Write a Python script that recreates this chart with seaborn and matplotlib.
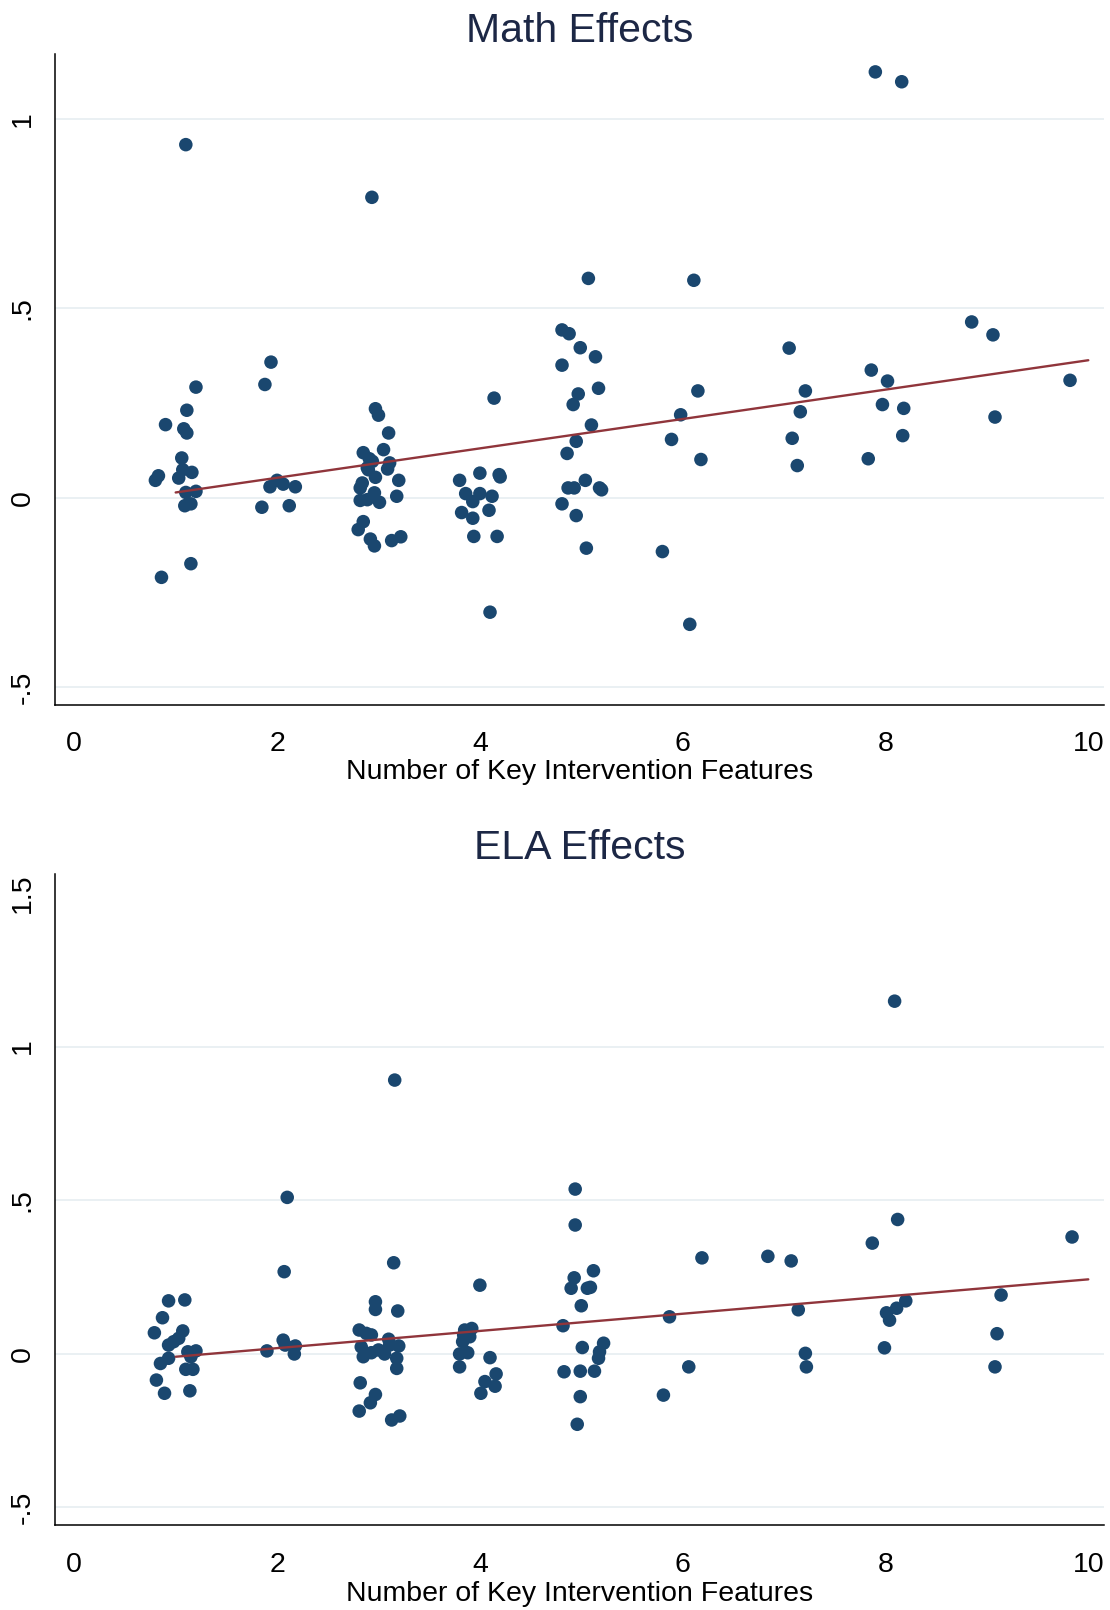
import matplotlib
matplotlib.use("Agg")
import matplotlib.pyplot as plt
import seaborn as sns
import pandas as pd

# ---------------- data ----------------
math_x = [
    1.10, 1.20, 1.11, 0.90, 1.08, 1.11, 1.06, 1.07, 1.16, 1.03, 0.83, 0.80, 1.10, 1.20, 1.09, 1.15, 1.15, 0.86,
    1.94, 1.88, 1.93, 2.00, 2.06, 2.18, 1.85, 2.12,
    2.935, 2.97, 3.00, 3.10, 2.85, 3.05, 2.91, 2.94, 2.89, 2.90, 3.11, 3.09, 2.97, 3.20, 2.84, 2.82,
    2.96, 3.18, 2.82, 2.89, 3.01, 2.85, 2.80, 2.92, 2.96, 3.13, 3.22,
    4.14, 4.00, 4.19, 4.20, 3.80, 3.86, 4.00, 4.12, 3.93, 3.82, 4.09, 3.93, 3.94, 4.17, 4.10,
    5.07, 4.81, 4.88, 4.99, 5.14, 4.81, 5.17, 4.97, 4.92, 5.10, 4.95, 4.86, 5.04, 4.87, 4.93, 5.18,
    5.20, 4.81, 4.95, 5.05,
    6.11, 6.15, 5.98, 5.89, 6.18, 5.80, 6.07,
    7.05, 7.21, 7.16, 7.08, 7.13,
    7.90, 8.16, 7.86, 8.02, 7.97, 8.18, 8.17, 7.83,
    8.85, 9.06, 9.08,
    9.82,
]
math_y = [
    0.932, 0.292, 0.231, 0.193, 0.182, 0.171, 0.105, 0.074, 0.067, 0.052, 0.058, 0.046, 0.014, 0.017, -0.021, -0.016, -0.174, -0.210,
    0.358, 0.299, 0.029, 0.046, 0.036, 0.029, -0.025, -0.021,
    0.793, 0.235, 0.218, 0.171, 0.119, 0.127, 0.103, 0.096, 0.079, 0.074, 0.092, 0.076, 0.054, 0.046, 0.039, 0.026,
    0.013, 0.004, -0.007, -0.005, -0.012, -0.063, -0.084, -0.109, -0.127, -0.113, -0.103,
    0.263, 0.065, 0.061, 0.055, 0.046, 0.011, 0.011, 0.004, -0.010, -0.039, -0.033, -0.054, -0.102, -0.102, -0.302,
    0.579, 0.443, 0.433, 0.396, 0.372, 0.350, 0.289, 0.274, 0.246, 0.192, 0.149, 0.117, 0.046, 0.026, 0.026, 0.026,
    0.021, -0.016, -0.047, -0.133,
    0.574, 0.282, 0.219, 0.154, 0.101, -0.142, -0.334,
    0.395, 0.282, 0.227, 0.157, 0.085,
    1.124, 1.098, 0.337, 0.308, 0.246, 0.236, 0.164, 0.103,
    0.464, 0.430, 0.213,
    0.310,
]
math_fit_x = [1, 10]
math_fit_y = [0.014, 0.363]

ela_x = [
    0.93, 1.09, 0.87, 0.79, 1.07, 1.03, 0.98, 0.93, 1.12, 1.20, 1.15, 0.93, 0.85, 1.10, 1.17, 0.81, 0.89, 1.14,
    2.10, 2.07, 1.90, 2.06, 2.08, 2.18, 2.17,
    3.16, 3.15, 2.97, 2.97, 3.19, 2.81, 2.88, 2.93, 3.10, 2.83, 2.85, 2.93, 3.00, 3.06, 3.11, 3.20, 3.18,
    3.18, 2.82, 2.97, 2.92, 2.81, 3.13, 3.21,
    4.00, 3.85, 3.92, 3.90, 3.84, 3.83, 3.88, 3.80, 3.80, 4.10, 4.16, 4.05, 4.15, 4.01,
    4.94, 4.94, 5.12, 4.93, 4.90, 5.09, 5.06, 5.00, 4.82, 5.01, 5.22, 5.18, 5.17, 4.83, 4.99, 5.13, 4.99, 4.96,
    6.19, 5.87, 6.06, 5.81,
    6.84, 7.07, 7.14, 7.21, 7.22,
    8.09, 8.12, 7.87, 8.20, 8.11, 8.01, 8.04, 7.99,
    9.14, 9.10, 9.08,
    9.84,
]
ela_y = [
    0.172, 0.175, 0.117, 0.068, 0.074, 0.050, 0.039, 0.028, 0.006, 0.009, -0.010, -0.015, -0.032, -0.051, -0.051, -0.086, -0.129, -0.121,
    0.509, 0.267, 0.009, 0.044, 0.028, 0.025, -0.001,
    0.891, 0.296, 0.169, 0.144, 0.139, 0.077, 0.066, 0.061, 0.047, 0.022, -0.010, 0.003, 0.012, -0.001, 0.028, 0.025, -0.015,
    -0.048, -0.095, -0.133, -0.160, -0.187, -0.216, -0.203,
    0.223, 0.077, 0.082, 0.055, 0.061, 0.039, 0.003, -0.001, -0.043, -0.013, -0.066, -0.091, -0.106, -0.129,
    0.536, 0.419, 0.270, 0.247, 0.213, 0.216, 0.213, 0.156, 0.091, 0.020, 0.034, 0.006, -0.015, -0.059, -0.057, -0.057, -0.140, -0.230,
    0.312, 0.120, -0.043, -0.135,
    0.317, 0.302, 0.143, 0.001, -0.043,
    1.148, 0.437, 0.360, 0.172, 0.148, 0.133, 0.109, 0.019,
    0.191, 0.065, -0.043,
    0.380,
]
ela_fit_x = [1, 10]
ela_fit_y = [-0.010, 0.242]

x_ticks = [0, 2, 4, 6, 8, 10]
math_yticks = [-0.5, 0, 0.5, 1]
math_yticklabels = ["-.5", "0", ".5", "1"]
ela_yticks = [-0.5, 0, 0.5, 1, 1.5]
ela_yticklabels = ["-.5", "0", ".5", "1", "1.5"]
grid_vals = [-0.5, 0, 0.5, 1]

titles = ["Math Effects", "ELA Effects"]
x_label = "Number of Key Intervention Features"

# ---------------- style ----------------
sns.set_style("white")
plt.rcParams["font.family"] = ["Liberation Sans", "DejaVu Sans"]

NAVY = "#1a476f"
MAROON = "#90353b"
GRID = "#e6eef1"

fig = plt.figure(figsize=(11.1, 16.1), dpi=100)
ax1 = fig.add_axes([0.0491, 0.5621, 0.9455, 0.4043])
ax2 = fig.add_axes([0.0491, 0.0528, 0.9455, 0.4045])

panels = [
    (ax1, math_x, math_y, math_fit_x, math_fit_y, math_yticks, math_yticklabels,
     (-0.547, 1.171), titles[0], 8.9, 10.5, 1.5),
    (ax2, ela_x, ela_y, ela_fit_x, ela_fit_y, ela_yticks, ela_yticklabels,
     (-0.558, 1.563), titles[1], 10.4, 11.2, 2.0),
]

for ax, xs, ys, fx, fy, yt, ytl, ylim, title, tpad, xpad, lpad in panels:
    for g in grid_vals:
        ax.axhline(g, color=GRID, lw=1.2, zorder=0)
    df = pd.DataFrame({"x": xs, "y": ys})
    sns.scatterplot(data=df, x="x", y="y", ax=ax, color=NAVY, s=95,
                    edgecolor="none", linewidth=0, zorder=3, legend=False)
    fit = pd.DataFrame({"x": fx, "y": fy})
    sns.lineplot(data=fit, x="x", y="y", ax=ax, color=MAROON, linewidth=1.7,
                 zorder=4, legend=False)
    ax.set_xlim(-0.195, 10.155)
    ax.set_ylim(*ylim)
    ax.set_xticks(x_ticks)
    ax.set_xticklabels([str(t) for t in x_ticks])
    ax.set_yticks(yt)
    ax.set_yticklabels(ytl, rotation=90, va="center")
    ax.tick_params(axis="both", direction="out", length=8.5, width=1.1,
                   color="#444444", labelsize=20.5, labelcolor="black")
    ax.tick_params(axis="x", pad=xpad)
    ax.tick_params(axis="y", pad=5)
    for s in ["top", "right"]:
        ax.spines[s].set_visible(False)
    for s in ["left", "bottom"]:
        ax.spines[s].set_color("black")
        ax.spines[s].set_linewidth(1.1)
    ax.set_xlabel(x_label, fontsize=20.5, labelpad=lpad, color="black")
    ax.set_ylabel("")
    ax.set_title(title, fontsize=29.5, pad=tpad, color="#1c2745")

fig.savefig("out.png", dpi=100)
